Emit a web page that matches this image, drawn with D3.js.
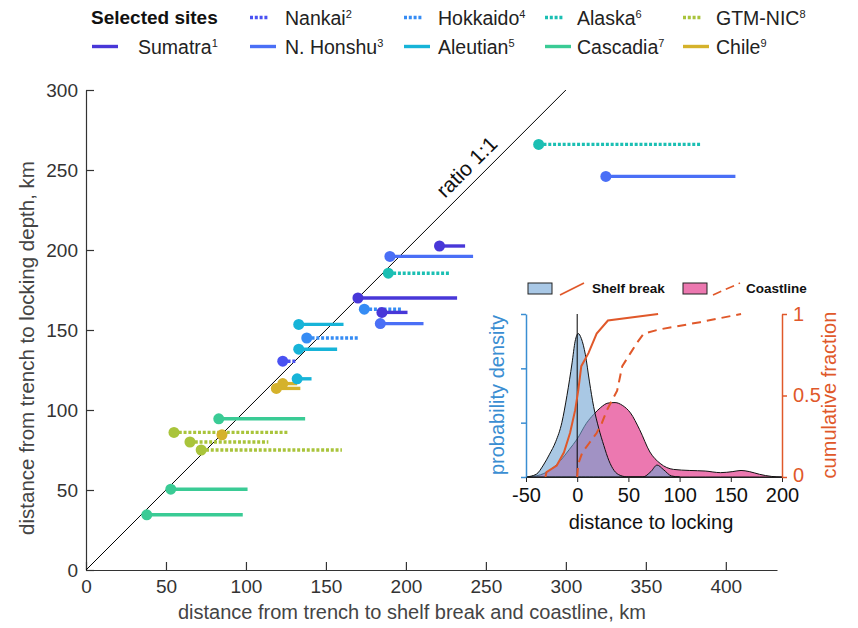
<!DOCTYPE html>
<html>
<head>
<meta charset="utf-8">
<script src="https://cdn.jsdelivr.net/npm/d3@7"></script>
<style>
  body { margin: 0; background: #fff; }
  svg { font-family: "Liberation Sans", Arial, sans-serif; }
</style>
</head>
<body>
<div id="chart"></div>
<script>
// Sites (legend order) and their superscript reference numbers
const siteNames = ['Sumatra', 'Nankai', 'N. Honshu', 'Hokkaido', 'Aleutian', 'Alaska', 'Cascadia', 'GTM-NIC', 'Chile'];
const siteRefs = ['1', '2', '3', '4', '5', '6', '7', '8', '9'];

// One entry per segment: site, trench->shelf break (dot), trench->coastline (line end), trench->locking depth
const pointSite = ['Alaska', 'N. Honshu', 'Sumatra', 'N. Honshu', 'Alaska', 'Sumatra', 'Hokkaido', 'Sumatra',
  'N. Honshu', 'Aleutian', 'Hokkaido', 'Aleutian', 'Nankai', 'Aleutian', 'Chile', 'Chile', 'Cascadia',
  'GTM-NIC', 'Chile', 'GTM-NIC', 'GTM-NIC', 'Cascadia', 'Cascadia'];
const shelfBreak = [283, 325, 221, 190, 189, 170, 174, 185, 184, 133, 138, 133, 123, 132, 123, 119, 83, 55, 85, 65, 72, 53, 38];
const coastline = [384, 406, 237, 242, 228, 232, 198, 201, 211, 161, 170, 157, 132, 141, 132, 134, 137, 127, 87, 114, 160, 101, 98];
const lockingDepth = [266, 246, 202.5, 196, 185.5, 170, 163, 161, 154, 153.5, 145, 138, 130.5, 119.5, 116.5, 113.5, 94.5, 86, 84.5, 80, 75, 50.5, 34.5];

// Inset: probability density of distance to locking (km, density) and cumulative fractions
const shelfDensity = [[-50, 0], [-40, 0.05], [-33, 0.22], [-27, 0.42], [-21, 0.65], [-15, 1.0], [-10, 1.5], [-5, 2.1],
  [-2, 2.5], [1, 2.64], [4, 2.55], [8, 2.25], [12, 1.75], [16, 1.3], [21, 0.9], [26, 0.58], [31, 0.3], [36, 0.12],
  [42, 0.03], [50, 0], [64, 0], [72, 0.1], [78, 0.22], [84, 0.14], [92, 0.02], [100, 0]];
const coastDensity = [[-50, 0], [-36, 0.04], [-25, 0.15], [-16, 0.31], [-8, 0.5], [0, 0.7], [9, 0.99], [16, 1.15],
  [23, 1.28], [30, 1.36], [37, 1.37], [44, 1.32], [52, 1.18], [61, 0.87], [71, 0.46], [81, 0.25], [94, 0.14],
  [110, 0.12], [125, 0.11], [140, 0.08], [152, 0.1], [160, 0.12], [168, 0.1], [178, 0.05], [190, 0.01], [200, 0]];
const shelfCdf = [[-31, 0], [-30, 0.03], [-20, 0.07], [-13, 0.15], [-7, 0.27], [-2, 0.41], [1, 0.53], [4, 0.68],
  [11, 0.76], [19, 0.88], [30, 0.96], [79, 1]];
const coastCdf = [[0, 0], [1, 0.08], [5, 0.15], [12, 0.21], [19, 0.27], [24, 0.33], [29, 0.41], [34, 0.47],
  [39, 0.53], [42, 0.62], [44, 0.68], [52, 0.76], [58, 0.82], [65, 0.88], [80, 0.905], [120, 0.95], [160, 1]];

const xTicks = [0, 50, 100, 150, 200, 250, 300, 350, 400];
const yTicks = [0, 50, 100, 150, 200, 250, 300];
const insetXTicks = [-50, 0, 50, 100, 150, 200];
const insetCdfTicks = [0, 0.5, 1];
const insetDensTicks = [0, 1, 2, 3];

// Styles
const siteColor = {
  'Sumatra': '#4837d8', 'Nankai': '#4a52f2', 'N. Honshu': '#4a6ff6', 'Hokkaido': '#368cf4', 'Aleutian': '#17b4d8',
  'Alaska': '#1bbfb3', 'Cascadia': '#3acb95', 'GTM-NIC': '#a9c43b', 'Chile': '#d5b22b'
};
const dottedSites = ['Nankai', 'Hokkaido', 'Alaska', 'GTM-NIC'];
const orange = '#e0582a';
const densBlue = '#3a8ed2';

const width = 858, height = 628;
const svg = d3.select('#chart').append('svg').attr('width', width).attr('height', height);

// ---------- main plot ----------
const x = d3.scaleLinear().domain([0, 432]).range([86, 777]);
const y = d3.scaleLinear().domain([0, 300]).range([570, 90]);

const xAxis = svg.append('g').attr('transform', `translate(0,${y(0)})`)
  .call(d3.axisBottom(x).tickValues(xTicks).tickSize(-8).tickPadding(10).tickSizeOuter(0));
const yAxis = svg.append('g').attr('transform', `translate(${x(0)},0)`)
  .call(d3.axisLeft(y).tickValues(yTicks).tickSize(-8).tickPadding(8).tickSizeOuter(0));
[xAxis, yAxis].forEach(a => {
  a.select('.domain').attr('stroke', '#333').attr('stroke-width', 1.2);
  a.selectAll('.tick line').attr('stroke', '#333').attr('stroke-width', 1.2);
  a.selectAll('.tick text').attr('font-size', 19).attr('fill', '#333').attr('font-family', null);
});
yAxis.selectAll('.tick text').attr('dy', '0.36em');

svg.append('text')
  .attr('x', 412).attr('y', 619)
  .attr('text-anchor', 'middle').attr('font-size', 20).attr('fill', '#444')
  .text('distance from trench to shelf break and coastline, km');
svg.append('text')
  .attr('transform', `translate(34,${348}) rotate(-90)`)
  .attr('text-anchor', 'middle').attr('font-size', 20.5).attr('fill', '#444')
  .text('distance from trench to locking depth, km');

// 1:1 line
svg.append('line')
  .attr('x1', x(0)).attr('y1', y(0)).attr('x2', x(300)).attr('y2', y(300))
  .attr('stroke', '#000').attr('stroke-width', 1);
svg.append('text')
  .attr('transform', `translate(${x(245) - 6},${y(245) - 6}) rotate(-45)`)
  .attr('text-anchor', 'middle').attr('font-size', 21).attr('fill', '#111')
  .text('ratio 1:1');

// segments then dots
const idx = d3.range(pointSite.length);
svg.append('g').selectAll('line').data(idx).join('line')
  .attr('x1', i => x(shelfBreak[i])).attr('x2', i => x(coastline[i]))
  .attr('y1', i => y(lockingDepth[i])).attr('y2', i => y(lockingDepth[i]))
  .attr('stroke', i => siteColor[pointSite[i]])
  .attr('stroke-width', 3.4)
  .attr('stroke-dasharray', i => dottedSites.includes(pointSite[i]) ? '3,1.8' : null);
svg.append('g').selectAll('circle').data(idx).join('circle')
  .attr('cx', i => x(shelfBreak[i])).attr('cy', i => y(lockingDepth[i]))
  .attr('r', 5.5).attr('fill', i => siteColor[pointSite[i]]);

// ---------- legend ----------
svg.append('text').attr('x', 91).attr('y', 24).attr('font-size', 19).attr('font-weight', 'bold')
  .attr('fill', '#111').text('Selected sites');
// column layout: [line x start, text x, row]
const legendPos = {
  'Sumatra': [92, 138, 1], 'Nankai': [250, 285, 0], 'N. Honshu': [250, 285, 1],
  'Hokkaido': [404, 438, 0], 'Aleutian': [404, 438, 1], 'Alaska': [545, 577, 0],
  'Cascadia': [545, 577, 1], 'GTM-NIC': [683, 716, 0], 'Chile': [683, 716, 1]
};
const rowY = [17.5, 46.5];
siteNames.forEach((s, k) => {
  const [lx, tx, row] = legendPos[s];
  const dotted = dottedSites.includes(s);
  svg.append('line')
    .attr('x1', lx).attr('x2', lx + (dotted ? 18 : 26))
    .attr('y1', rowY[row]).attr('y2', rowY[row])
    .attr('stroke', siteColor[s]).attr('stroke-width', 3.4)
    .attr('stroke-dasharray', dotted ? '3,1.8' : null);
  const t = svg.append('text').attr('x', tx).attr('y', rowY[row] + 7)
    .attr('font-size', 19.5).attr('fill', '#222');
  t.append('tspan').text(s);
  t.append('tspan').attr('font-size', 11).attr('dy', -7).text(siteRefs[k]);
});

// ---------- inset ----------
const ix = d3.scaleLinear().domain([-50, 200]).range([526, 782]);
const iyDens = d3.scaleLinear().domain([0, 3]).range([477, 314]);
const iyCdf = d3.scaleLinear().domain([0, 1]).range([477, 314]);

const inset = svg.append('g');
const area = d3.area().x(d => ix(d[0])).y0(iyDens(0)).y1(d => iyDens(d[1])).curve(d3.curveMonotoneX);
inset.append('path').datum(coastDensity).attr('d', area)
  .attr('fill', '#ec78b0').attr('stroke', '#111').attr('stroke-width', 1);
inset.append('path').datum(shelfDensity).attr('d', area)
  .attr('fill', '#6fa3d2').attr('fill-opacity', 0.6).attr('stroke', '#111').attr('stroke-width', 1);

// zero line
inset.append('line').attr('x1', ix(0)).attr('x2', ix(0)).attr('y1', iyCdf(1)).attr('y2', iyCdf(0))
  .attr('stroke', '#000').attr('stroke-width', 1);

const cdfLine = d3.line().x(d => ix(d[0])).y(d => iyCdf(d[1]));
inset.append('path').datum(shelfCdf).attr('d', cdfLine)
  .attr('fill', 'none').attr('stroke', orange).attr('stroke-width', 2);
inset.append('path').datum(coastCdf).attr('d', cdfLine)
  .attr('fill', 'none').attr('stroke', orange).attr('stroke-width', 2).attr('stroke-dasharray', '9,6');

const ixAxis = inset.append('g').attr('transform', `translate(0,${iyDens(0)})`)
  .call(d3.axisBottom(ix).tickValues(insetXTicks).tickSize(5).tickPadding(6).tickSizeOuter(0)
    .tickFormat(d => String(d)));
ixAxis.select('.domain').attr('stroke', '#222');
ixAxis.selectAll('.tick line').attr('stroke', '#222');
ixAxis.selectAll('.tick text').attr('font-size', 20).attr('fill', '#111').attr('font-family', null);

const iyAxisL = inset.append('g').attr('transform', `translate(${ix(-50)},0)`)
  .call(d3.axisLeft(iyDens).tickValues(insetDensTicks).tickSize(5).tickFormat('').tickSizeOuter(0));
iyAxisL.selectAll('.domain, .tick line').attr('stroke', densBlue).attr('stroke-width', 1.5);

const iyAxisR = inset.append('g').attr('transform', `translate(${ix(200)},0)`)
  .call(d3.axisRight(iyCdf).tickValues(insetCdfTicks).tickSize(5).tickPadding(6).tickFormat(d => String(d)).tickSizeOuter(0));
iyAxisR.selectAll('.domain, .tick line').attr('stroke', orange).attr('stroke-width', 1.5);
iyAxisR.selectAll('.tick text').attr('font-size', 20).attr('fill', orange).attr('font-family', null);
iyAxisR.selectAll('.tick text').filter(d => d === 0).attr('dy', '0.2em');

inset.append('text').attr('x', 651).attr('y', 529).attr('text-anchor', 'middle')
  .attr('font-size', 20).attr('fill', '#111').text('distance to locking');
inset.append('text').attr('transform', `translate(504,395) rotate(-90)`).attr('text-anchor', 'middle')
  .attr('font-size', 20).attr('fill', densBlue).text('probability density');
inset.append('text').attr('transform', `translate(836,395) rotate(-90)`).attr('text-anchor', 'middle')
  .attr('font-size', 20).attr('fill', orange).text('cumulative fraction');

// inset legend
inset.append('rect').attr('x', 528).attr('y', 283).attr('width', 24).attr('height', 11)
  .attr('fill', '#a9c8e6').attr('stroke', '#222');
inset.append('line').attr('x1', 560).attr('y1', 295).attr('x2', 584).attr('y2', 283)
  .attr('stroke', orange).attr('stroke-width', 1.6);
inset.append('text').attr('x', 592).attr('y', 293).attr('font-size', 13.5).attr('font-weight', 'bold')
  .attr('fill', '#111').text('Shelf break');
inset.append('rect').attr('x', 683).attr('y', 283).attr('width', 24).attr('height', 11)
  .attr('fill', '#ec78b0').attr('stroke', '#222');
inset.append('line').attr('x1', 713).attr('y1', 295).attr('x2', 740).attr('y2', 283)
  .attr('stroke', orange).attr('stroke-width', 1.6).attr('stroke-dasharray', '9,5');
inset.append('text').attr('x', 746).attr('y', 293).attr('font-size', 13.5).attr('font-weight', 'bold')
  .attr('fill', '#111').text('Coastline');
</script>
</body>
</html>
